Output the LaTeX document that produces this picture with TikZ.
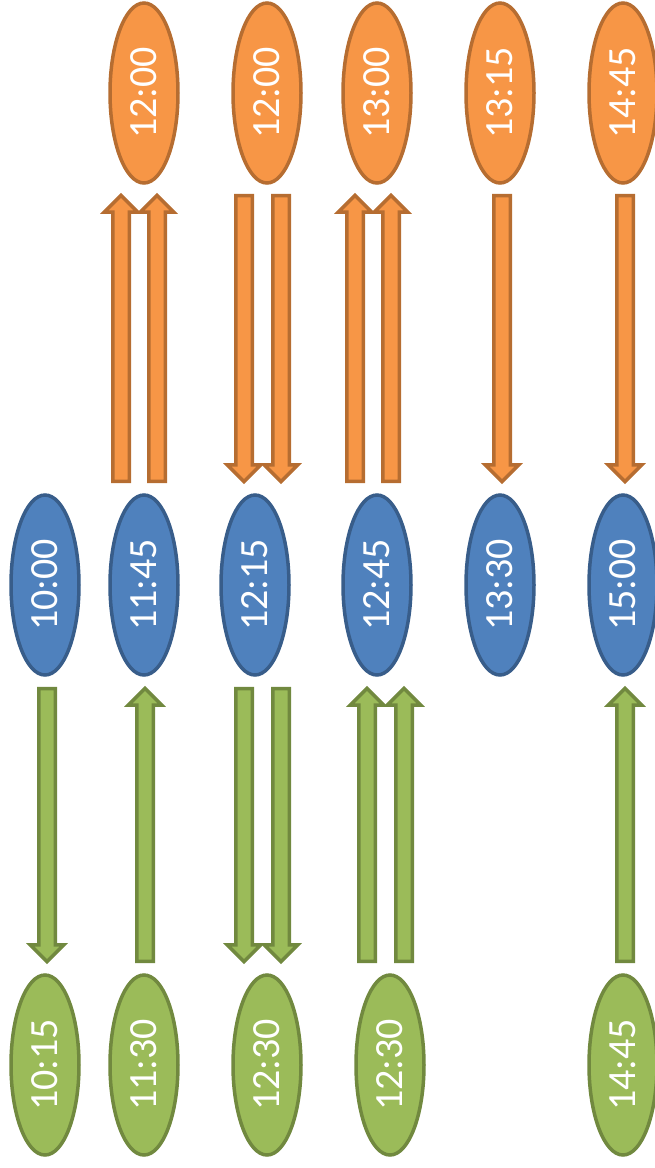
\documentclass[tikz,border=0pt]{standalone}
\usepackage{fontspec}
\setmainfont{Carlito}
\usetikzlibrary{shapes.geometric,shapes.arrows}
\definecolor{orfill}{HTML}{F79646}
\definecolor{ordraw}{HTML}{B66D31}
\definecolor{blfill}{HTML}{4F81BD}
\definecolor{bldraw}{HTML}{385D8A}
\definecolor{grfill}{HTML}{9BBB59}
\definecolor{grdraw}{HTML}{71893F}
\tikzset{
    every node/.style={line width=3.5pt, text=white,
    	font=\fontsize{40}{42}\selectfont}
}
\tikzset{
    slot/.style={ellipse, rotate=90, minimum width=180pt,
    	minimum height=68pt, inner sep=0pt}
}
\tikzset{
	blockarrow/.style={single arrow, single arrow head extend=8.5pt,
		single arrow head indent=0pt, inner xsep=0pt, inner ysep=6.5pt,
		minimum height=#1}
}
\tikzset{
	orange/.style={fill=orfill, draw=ordraw},
	blue/.style={fill=blfill, draw=bldraw},
	green/.style={fill=grfill, draw=grdraw}
}

\begin{document}
\begin{tikzpicture}[x=1pt, y=-1pt]
	\useasboundingbox (0,0) rectangle (655,1168);

	\node (o1) [slot, orange] at (144, 93) {12:00};
	\node (o2) [slot, orange] at (267, 93) {12:00};
	\node (o3) [slot, orange] at (377, 93) {13:00};
	\node (o4) [slot, orange] at (500, 93) {13:15};
	\node (o5) [slot, orange] at (623, 93) {14:45};

	\node (b1) [slot, blue] at ( 45, 585) {10:00};
	\node (b2) [slot, blue] at (144, 585) {11:45};
	\node (b3) [slot, blue] at (255, 585) {12:15};
	\node (b4) [slot, blue] at (377, 585) {12:45};
	\node (b5) [slot, blue] at (500, 585) {13:30};
	\node (b6) [slot, blue] at (623, 585) {15:00};

	\node (g1) [slot, green] at ( 45, 1065) {10:15};
	\node (g2) [slot, green] at (144, 1065) {11:30};
	\node (g3) [slot, green] at (267, 1065) {12:30};
	\node (g4) [slot, green] at (390, 1065) {12:30};
	\node (g5) [slot, green] at (623, 1065) {14:45};

	\node (oa1) [blockarrow=286pt, orange, rotate=90]  at (121, 342.5) {};
	\node (oa2) [blockarrow=286pt, orange, rotate=90]  at (157, 342.5) {};
	\node (oa3) [blockarrow=286pt, orange, rotate=-90] at (244, 334.5) {};
	\node (oa4) [blockarrow=286pt, orange, rotate=-90] at (281, 334.5) {};
	\node (oa5) [blockarrow=286pt, orange, rotate=90]  at (355, 342.5) {};
	\node (oa6) [blockarrow=286pt, orange, rotate=90]  at (391, 342.5) {};
	\node (oa7) [blockarrow=286pt, orange, rotate=-90] at (502, 334.5) {};
	\node (oa8) [blockarrow=286pt, orange, rotate=-90] at (625, 334.5) {};

	\node (ga1) [blockarrow=273pt, green, rotate=-90] at ( 47, 821) {};
	\node (ga2) [blockarrow=273pt, green, rotate=90]  at (145, 829) {};
	\node (ga3) [blockarrow=273pt, green, rotate=-90] at (244, 821) {};
	\node (ga4) [blockarrow=273pt, green, rotate=-90] at (281, 821) {};
	\node (ga5) [blockarrow=273pt, green, rotate=90]  at (367, 829) {};
	\node (ga6) [blockarrow=273pt, green, rotate=90]  at (404, 829) {};
	\node (ga7) [blockarrow=273pt, green, rotate=90]  at (625, 829) {};
\end{tikzpicture}
\end{document}
